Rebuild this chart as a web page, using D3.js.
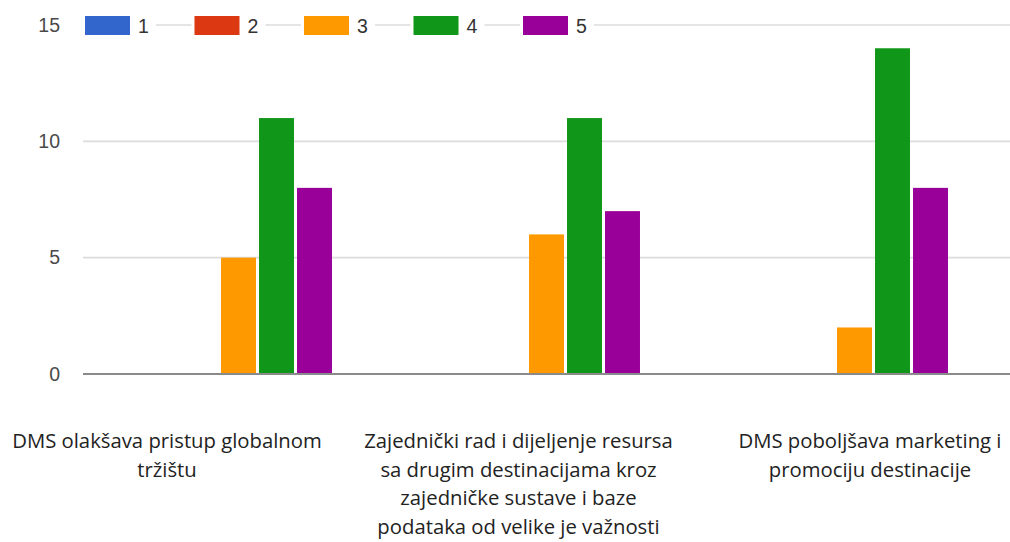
<!DOCTYPE html>
<html>
<head>
<meta charset="utf-8">
<script src="https://cdn.jsdelivr.net/npm/d3@7"></script>
<style>
  html, body { margin: 0; padding: 0; background: #fff; }
  svg { display: block; }
</style>
</head>
<body>
<svg id="chart" width="1010" height="542"></svg>
<script>
// Survey answers (rating 1–5) per statement
const categories = [
  "DMS olakšava pristup globalnom tržištu",
  "Zajednički rad i dijeljenje resursa sa drugim destinacijama kroz zajedničke sustave i baze podataka od velike je važnosti",
  "DMS poboljšava marketing i promociju destinacije"
];
const categoryLines = [
  ["DMS olakšava pristup globalnom", "tržištu"],
  ["Zajednički rad i dijeljenje resursa", "sa drugim destinacijama kroz", "zajedničke sustave i baze", "podataka od velike je važnosti"],
  ["DMS poboljšava marketing i", "promociju destinacije"]
];
const seriesNames = ["1", "2", "3", "4", "5"];
const series1 = [0, 0, 0];
const series2 = [0, 0, 0];
const series3 = [5, 6, 2];
const series4 = [11, 11, 14];
const series5 = [8, 7, 8];
const yTicks = [0, 5, 10, 15];
const colors = ["#3366cc", "#dc3912", "#ff9900", "#109618", "#990099"];

const seriesValues = [series1, series2, series3, series4, series5];
const rows = categories.map((c, i) => ({
  category: c,
  values: seriesNames.map((s, j) => ({ key: s, value: seriesValues[j][i] }))
}));

const svg = d3.select("#chart");
const plotLeft = 84.5, plotRight = 1008.5;

const x0 = d3.scaleBand().domain(categories).range([plotLeft, plotRight]);
const groupWidth = 190;
const x1 = d3.scaleBand().domain(seriesNames)
  .range([(x0.bandwidth() - groupWidth) / 2, (x0.bandwidth() + groupWidth) / 2])
  .paddingInner(0.08).paddingOuter(0.04);
const y = d3.scaleLinear().domain([0, 15]).range([374, 25]);
const color = d3.scaleOrdinal().domain(seriesNames).range(colors);

// gridlines
svg.append("g")
  .selectAll("line")
  .data(yTicks.filter(t => t !== 0))
  .join("line")
  .attr("x1", 83).attr("x2", 1010)
  .attr("y1", d => y(d)).attr("y2", d => y(d))
  .attr("stroke", "#dcdcdc").attr("stroke-width", 1.6);

// y axis labels
const yAxis = d3.axisLeft(y).tickValues(yTicks).tickSize(0).tickPadding(0);
const yg = svg.append("g").attr("transform", "translate(60,0)").call(yAxis);
yg.select(".domain").remove();
yg.selectAll("text")
  .attr("font-family", "Arial, 'Liberation Sans', sans-serif")
  .attr("font-size", 19.5)
  .attr("fill", "#4a4a4a");

// bars
svg.append("g")
  .selectAll("g")
  .data(rows)
  .join("g")
  .attr("transform", d => `translate(${x0(d.category)},0)`)
  .selectAll("rect")
  .data(d => d.values.filter(v => v.value > 0))
  .join("rect")
  .attr("x", d => x1(d.key))
  .attr("width", x1.bandwidth())
  .attr("y", d => y(d.value))
  .attr("height", d => y(0) - y(d.value))
  .attr("fill", d => color(d.key));

// baseline
svg.append("line")
  .attr("x1", 83).attr("x2", 1010)
  .attr("y1", y(0)).attr("y2", y(0))
  .attr("stroke", "#8a8a8a").attr("stroke-width", 2);

// legend
const legend = svg.append("g").attr("transform", `translate(85,${y(15)})`);
const item = legend.selectAll("g")
  .data(seriesNames)
  .join("g")
  .attr("transform", (d, i) => `translate(${i * 109.5},0)`);
item.append("rect")
  .attr("x", -3).attr("y", -13).attr("width", 74).attr("height", 26)
  .attr("fill", "#fff");
item.append("rect")
  .attr("x", 0).attr("y", -9).attr("width", 45).attr("height", 19)
  .attr("fill", d => color(d));
item.append("text")
  .attr("x", 53).attr("y", 1).attr("dy", "0.35em")
  .attr("font-family", "Arial, 'Liberation Sans', sans-serif")
  .attr("font-size", 19.5)
  .attr("fill", "#333")
  .text(d => d);

// category labels
const xLabel = d3.scalePoint().domain(categories).range([167, 870]);
svg.append("g")
  .selectAll("text")
  .data(categories)
  .join("text")
  .attr("x", d => xLabel(d))
  .attr("y", 441)
  .attr("text-anchor", "middle")
  .attr("font-family", "'Open Sans', sans-serif")
  .attr("font-size", 20.3)
  .attr("fill", "#222")
  .each(function (d, i) {
    d3.select(this).selectAll("tspan")
      .data(categoryLines[i])
      .join("tspan")
      .attr("x", xLabel(d))
      .attr("dy", (l, k) => k === 0 ? "0.35em" : "28.5")
      .text(l => l);
  });
</script>
</body>
</html>
